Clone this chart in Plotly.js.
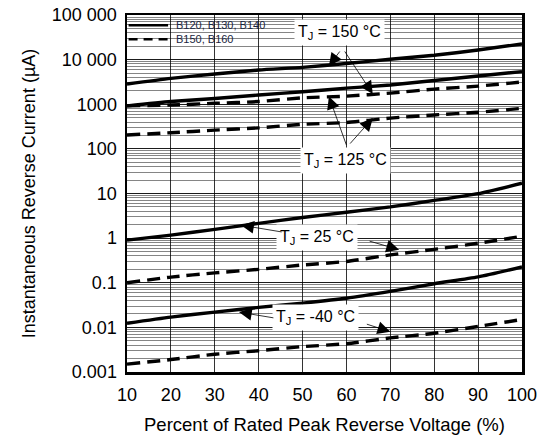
<!DOCTYPE html>
<html>
<head>
<meta charset="utf-8">
<script src="https://cdn.plot.ly/plotly-3.0.1.min.js"></script>
<style>html,body{margin:0;padding:0;background:#fff}#chart{width:540px;height:436px}</style>
</head>
<body>
<div id="chart"></div>
<script>
const percent = [10, 20, 30, 40, 50, 60, 70, 80, 90, 100];
const solid150 = [2850, 3800, 4750, 5850, 6700, 8200, 10200, 12500, 16400, 22500];
const solid125 = [920, 1150, 1350, 1610, 1900, 2300, 2700, 3400, 4300, 5400];
const dashed150 = [920, 960, 1050, 1150, 1390, 1520, 1780, 2180, 2550, 3150];
const dashed125 = [205, 230, 263, 295, 355, 390, 490, 575, 660, 810];
const solid25 = [0.90, 1.17, 1.57, 2.14, 2.9, 3.8, 5.0, 7.0, 9.9, 17];
const dashed25 = [0.10, 0.134, 0.166, 0.20, 0.25, 0.30, 0.42, 0.56, 0.77, 1.1];
const solidM40 = [0.0124, 0.017, 0.022, 0.028, 0.035, 0.045, 0.064, 0.095, 0.135, 0.225];
const dashedM40 = [0.0015, 0.0019, 0.0025, 0.0030, 0.0037, 0.0043, 0.0058, 0.0074, 0.0105, 0.015];
const yTickVals = [0.001, 0.01, 0.1, 1, 10, 100, 1000, 10000, 100000];
const yTickText = ["0.001", "0.01", "0.1", "1", "10", "100", "1000", "10 000", "100 000"];
const legendSolid = "B120, B130, B140";
const legendDashed = "B150, B160";

const FAM = "Liberation Sans, Arial, sans-serif";
const lw = 3.4;
const dashPat = "13px,7px";
function tr(y, dashed, name) {
  return {x: percent, y: y, mode: "lines", type: "scatter", name: name, showlegend: false,
    line: {color: "#000", width: lw, dash: dashed ? dashPat : "solid", shape: "spline", smoothing: 0.6},
    hoverinfo: "skip"};
}
const data = [
  tr(solid150, false, legendSolid),
  tr(dashed150, true, legendDashed),
  tr(solid125, false, legendSolid),
  tr(dashed125, true, legendDashed),
  tr(solid25, false, legendSolid),
  tr(dashed25, true, legendDashed),
  tr(solidM40, false, legendSolid),
  tr(dashedM40, true, legendDashed)
];

const L = Math.log10;
const fnt = {family: FAM, size: 16, color: "#000"};
function label(x, y, text) {
  return {x: x, y: L(y), xref: "x", yref: "y", text: text, showarrow: false, font: fnt,
    bgcolor: "#fff", borderpad: 3};
}
function arrow(x, y, ax, ay) {
  return {x: x, y: L(y), xref: "x", yref: "y", text: "", showarrow: true, ax: ax, ay: ay,
    arrowhead: 2, arrowsize: 3.2, arrowwidth: 0.8, arrowcolor: "#000"};
}
const annotations = [
  label(58.4, 41000, "T<sub>J</sub> = 150 °C"),
  arrow(56, 7200, 12, -16),
  arrow(66, 1700, -29, -44),
  label(59.8, 56, "T<sub>J</sub> = 125 °C"),
  arrow(56, 1500, 18, 50),
  arrow(66, 490, -24, 27),
  label(53.4, 1.05, "T<sub>J</sub> = 25 °C"),
  arrow(36, 1.95, 42, 7),
  arrow(72, 0.55, -31, -9),
  label(52.9, 0.0165, "T<sub>J</sub> = -40 °C"),
  arrow(35.5, 0.022, 36, 6),
  arrow(70, 0.008, -25, -8),
  {x: 0.118, y: 0.971, xref: "paper", yref: "paper", xanchor: "left", yanchor: "middle",
    text: legendSolid, showarrow: false, font: {family: FAM, size: 11, color: "#1a2540"}},
  {x: 0.118, y: 0.932, xref: "paper", yref: "paper", xanchor: "left", yanchor: "middle",
    text: legendDashed, showarrow: false, font: {family: FAM, size: 11, color: "#1a2540"}}
];

const shapes = [
  {type: "rect", xref: "paper", yref: "paper", x0: 0.002, x1: 0.35, y0: 0.91, y1: 0.998,
    fillcolor: "rgba(255,255,255,0.88)", line: {width: 0}, layer: "between"},
  {type: "line", xref: "paper", yref: "paper", x0: 0.004, x1: 0.104, y0: 0.971, y1: 0.971,
    line: {color: "#000", width: 2.5}},
  {type: "line", xref: "paper", yref: "paper", x0: 0.004, x1: 0.104, y0: 0.932, y1: 0.932,
    line: {color: "#000", width: 2.5, dash: "9px,6px"}}
];

const layout = {
  width: 540, height: 436,
  margin: {l: 127, r: 18, t: 15, b: 64},
  paper_bgcolor: "#fff", plot_bgcolor: "#fff",
  font: fnt,
  showlegend: false,
  xaxis: {
    range: [10, 100], dtick: 10, tick0: 10, ticks: "", showgrid: true,
    gridcolor: "#000", gridwidth: 0.8, zeroline: false,
    showline: true, linecolor: "#000", linewidth: 2.5, mirror: true,
    ticklabelstandoff: 5,
    tickfont: {family: FAM, size: 18, color: "#000"},
    title: {text: "Percent of Rated Peak Reverse Voltage (%)", standoff: 14,
      font: {family: FAM, size: 18.5, color: "#000"}}
  },
  yaxis: {
    type: "log", range: [-3, 5], tickvals: yTickVals, ticktext: yTickText, ticks: "",
    showgrid: true, gridcolor: "#000", gridwidth: 0.8, zeroline: false,
    showline: true, linecolor: "#000", linewidth: 2.5, mirror: true,
    minor: {showgrid: true, gridcolor: "#333", gridwidth: 0.6, ticks: "", dtick: "D1"},
    ticklabelstandoff: 4,
    tickfont: {family: FAM, size: 18, color: "#000"},
    title: {text: "Instantaneous Reverse Current (µA)", standoff: 12,
      font: {family: FAM, size: 18, color: "#000"}}
  },
  shapes: shapes,
  annotations: annotations
};
Plotly.newPlot("chart", data, layout, {staticPlot: true, displayModeBar: false});
</script>
</body>
</html>
